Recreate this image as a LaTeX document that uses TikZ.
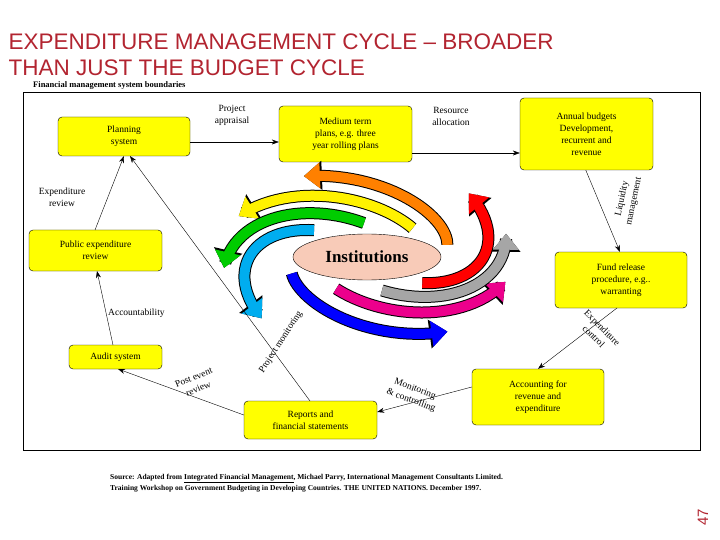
\documentclass[tikz,border=0pt]{standalone}
\usepackage{fontspec}
\setmainfont{Liberation Serif}
\newfontfamily\titlefont{Liberation Sans}
\usetikzlibrary{arrows.meta,shapes.geometric}
\definecolor{ttl}{HTML}{B22430}
\definecolor{boxy}{HTML}{FFFF00}
\definecolor{salmon}{HTML}{F8CBB8}
\begin{document}
\begin{tikzpicture}[x=1pt,y=-1pt,
  bx/.style={draw=black,fill=boxy,rounded corners=4pt,align=center,font=\fontsize{9.5}{12}\selectfont,inner sep=1pt},
  lb/.style={font=\fontsize{9.5}{12}\selectfont,align=center,inner sep=1pt},
  con/.style={-{Stealth[length=7pt,width=5pt]},thin}]
\useasboundingbox (0,0) rectangle (720,540);
\node[anchor=west,text=ttl,font=\titlefont\fontsize{22.5}{27}\selectfont] (t1) at (5,42) {EXPENDITURE MANAGEMENT CYCLE – BROADER};
\node[anchor=west,text=ttl,font=\titlefont\fontsize{22.5}{27}\selectfont] (t2) at (5,68) {THAN JUST THE BUDGET CYCLE};
\node[anchor=west,font=\bfseries\fontsize{8.5}{10}\selectfont,inner sep=0] (fb) at (33,85) {Financial management system boundaries};
\draw[line width=1pt] (23,93) rectangle (700,450);
% boxes
\node[bx,minimum width=132pt,minimum height=39pt] (plan) at (124,136.5) {Planning\\system};
\node[bx,minimum width=133pt,minimum height=56pt] (med) at (345.5,134) {Medium term\\plans, e.g. three\\year rolling plans};
\node[bx,minimum width=133pt,minimum height=72pt] (ann) at (586.5,134) {Annual budgets\\Development,\\recurrent and\\revenue};
\node[bx,minimum width=132pt,minimum height=56pt] (fund) at (621,280) {Fund release\\procedure, e.g..\\warranting};
\node[bx,minimum width=132pt,minimum height=56pt] (acc) at (538,397) {Accounting for\\revenue and\\expenditure};
\node[bx,minimum width=133pt,minimum height=38pt] (rep) at (310.5,420) {Reports and\\financial statements};
\node[bx,minimum width=93pt,minimum height=24pt] (aud) at (115.5,357) {Audit system};
\node[bx,minimum width=133pt,minimum height=41pt] (pub) at (95.5,250.5) {Public expenditure\\review};
% swirl
\foreach \h/\c in {116/orange,153/yellow,187/green!80!black,223/cyan,304/blue,344/magenta,15/gray!70,45/red}{
  \pgfmathsetmacro{\ta}{\h-95}
  \draw[line width=12pt,black,-{Triangle[length=18pt,width=28pt]}] plot[domain=\ta:\h,samples=30] ({367+(86+58*(\x-\ta)/95)*cos(\x)},{257-(34+56*(\x-\ta)/95)*sin(\x)});
  \draw[line width=10pt,\c,-{Triangle[length=16pt,width=25pt]}] plot[domain=\ta:\h,samples=30] ({367+(86+58*(\x-\ta)/95)*cos(\x)},{257-(34+56*(\x-\ta)/95)*sin(\x)});
}
\node[draw=black,fill=salmon,ellipse,minimum width=148pt,minimum height=46pt,font=\bfseries\fontsize{17}{20}\selectfont] (inst) at (367,257) {Institutions};
% connectors
\draw[con] (plan.east |- 0,142) -- (med.west |- 0,142);
\node[lb] (l1) at (232,115) {Project\\appraisal};
\draw[con] (med.east |- 0,153) -- (ann.west |- 0,153);
\node[lb] (l2) at (451,116) {Resource\\allocation};
\draw[con] (ann.south west) ++(66,0) coordinate (a1) -- (620,252) coordinate (a2);
\node[lb,rotate=78] (l3) at (628,200) {Liquidity\\management};
\draw[con] (617,308) -- (acc.north);
\node[lb,rotate=-45] (l4) at (598,332) {Expenditure\\control};
\draw[con] (acc.west) ++(0,-10) coordinate (b1) -- (rep.east |- 0,412);
\node[lb,rotate=-20] (l5) at (413,395) {Monitoring\\\& controlling};
\draw[con] (rep.west |- 0,415) -- (118,369);
\node[lb,rotate=22] (l6) at (196,383) {Post event\\review};
\draw[con] (113,345) -- (97,271);
\node[lb,anchor=west] (l7) at (107,313) {Accountability};
\draw[con] (95,230) -- (124,156);
\node[lb] (l8) at (62,197) {Expenditure\\review};
\draw[con] (310,401) -- (130,156);
\node[lb,rotate=57] (l9) at (281,342) {Project monitoring};
% source
\node[anchor=west,align=left,font=\bfseries\fontsize{7.5}{11}\selectfont,inner sep=0] (src) at (110,483) {Source: Adapted from \underline{Integrated Financial Management}, Michael Parry, International Management Consultants Limited.\\Training Workshop on Government Budgeting in Developing Countries. THE UNITED NATIONS. December 1997.};
\node[rotate=90,text=ttl,font=\titlefont\fontsize{15}{18}\selectfont] (pg) at (703,517) {47};
\end{tikzpicture}
\end{document}
